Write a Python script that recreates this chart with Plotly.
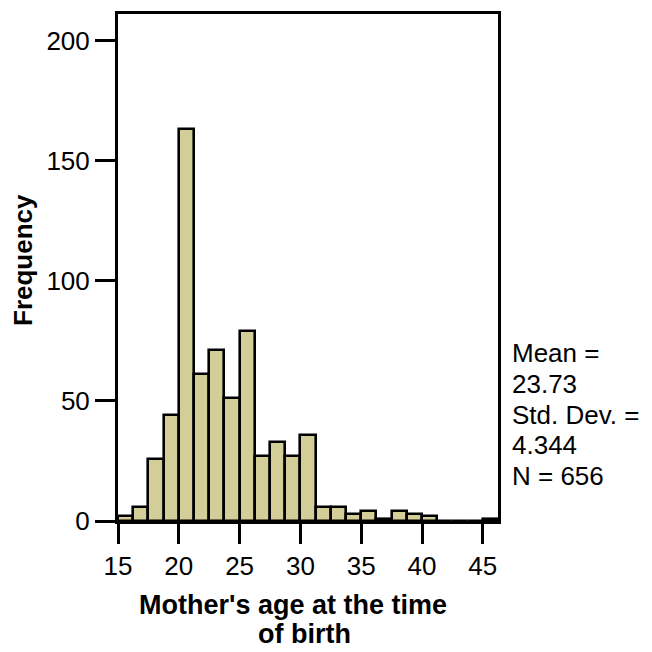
import plotly.graph_objects as go

# Histogram bins (left edges, width 1.25 years) and counts
bin_left = [15.0, 16.25, 17.5, 18.75, 20.0, 21.25, 22.5, 23.75, 25.0, 26.25,
            27.5, 28.75, 30.0, 31.25, 32.5, 33.75, 35.0, 36.25, 37.5, 38.75,
            40.0, 41.25, 42.5, 43.75, 45.0]
bin_width = 1.25
counts = [2, 6, 26, 44, 163, 61, 71, 51, 79, 27,
          33, 27, 36, 6, 6, 3, 4, 1, 4, 3,
          2, 0, 0, 0, 1]

x_ticks = [15, 20, 25, 30, 35, 40, 45]
y_ticks = [0, 50, 100, 150, 200]
stats_lines = ["Mean =", "23.73", "Std. Dev. =", "4.344", "N = 656"]
x_title_lines = ["Mother's age at the time", "of birth"]
y_title = "Frequency"

FONT = "Liberation Sans, Arial, sans-serif"

fig = go.Figure()
fig.add_trace(go.Bar(
    x=bin_left, y=counts, width=bin_width, offset=0,
    marker=dict(color="#D3CE97", line=dict(color="black", width=2.6)),
    hoverinfo="x+y",
))

# plot area geometry (pixels)
L, R, T, B = 118, 154, 14, 131
W = 652 - L - R
H = 652 - T - B

def px(xp):
    return (xp - L) / W

def py(yp):
    return (652 - B - yp) / H

fig.update_layout(
    width=652, height=652,
    margin=dict(l=L, r=R, t=T, b=B, pad=0),
    plot_bgcolor="white", paper_bgcolor="white",
    showlegend=False, bargap=0,
    font=dict(family=FONT, color="black", size=26),
    xaxis=dict(range=[15, 46.25], tickvals=x_ticks, ticks="outside", ticklen=20,
               tickwidth=3, tickcolor="black", showline=True, linewidth=3,
               linecolor="black", mirror=True, showgrid=False, zeroline=False,
               tickfont=dict(size=26, family=FONT)),
    yaxis=dict(range=[0, 211], tickvals=y_ticks, ticks="outside", ticklen=20,
               tickwidth=3, tickcolor="black", showline=True, linewidth=3,
               linecolor="black", mirror=True, showgrid=False, zeroline=False,
               tickfont=dict(size=26, family=FONT)),
)

ann = []
# x title, two lines
for text, xc, yc in zip(x_title_lines, [292.5, 304.0], [604.5, 634.0]):
    ann.append(dict(text="<b>%s</b>" % text, x=px(xc), y=py(yc), xref="paper",
                    yref="paper", xanchor="center", yanchor="middle",
                    showarrow=False, font=dict(size=27, family=FONT)))
# y title
ann.append(dict(text="<b>%s</b>" % y_title, x=px(23), y=py(260), xref="paper",
                yref="paper", xanchor="center", yanchor="middle", textangle=-90,
                showarrow=False, font=dict(size=26, family=FONT)))
# stats block
for i, line in enumerate(stats_lines):
    ann.append(dict(text=line, x=px(510), y=py(353.3 + 30.7 * i), xref="paper",
                    yref="paper", xanchor="left", yanchor="middle",
                    showarrow=False, font=dict(size=26, family=FONT)))
fig.update_layout(annotations=ann)

fig.write_html("out.html")
